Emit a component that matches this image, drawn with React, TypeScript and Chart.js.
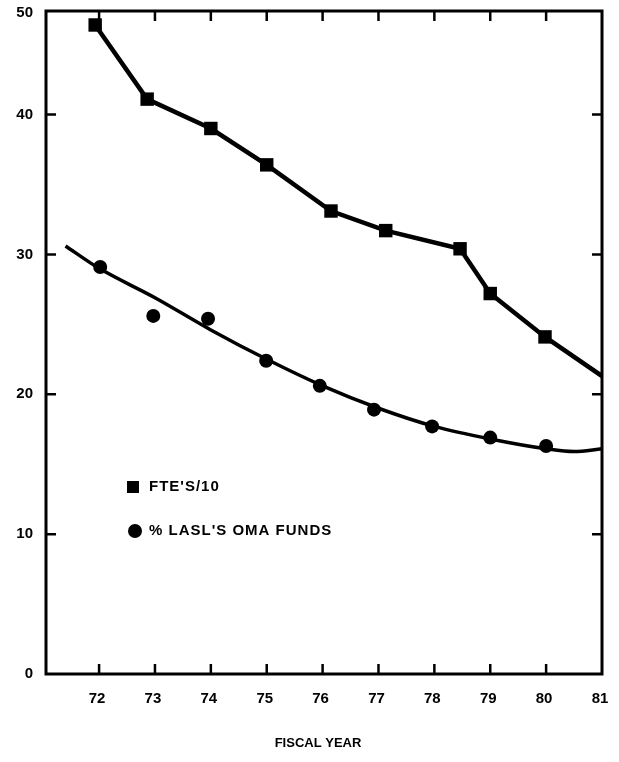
import React, { useEffect, useRef } from 'react';
import { Chart, registerables } from 'chart.js';

Chart.register(...registerables);

// Fiscal-year tick values and labels
const xTickValues = [72, 73, 74, 75, 76, 77, 78, 79, 80, 81];
const xTickLabels = ['72', '73', '74', '75', '76', '77', '78', '79', '80', '81'];
const yTickValues = [0, 10, 20, 30, 40, 47.4];
const yTickLabels = ['0', '10', '20', '30', '40', '50'];
const xAxisTitle = 'FISCAL YEAR';

// FTE'S/10 series (squares, connected)
const fteYears = [71.93, 72.86, 74.0, 75.0, 76.15, 77.13, 78.46, 79.0, 79.98, 81.0];
const fteValues = [46.4, 41.1, 39.0, 36.4, 33.1, 31.7, 30.4, 27.2, 24.1, 21.3];

// % LASL'S OMA FUNDS (circles)
const omaYears = [72.02, 72.97, 73.95, 74.99, 75.95, 76.92, 77.96, 79.0, 80.0];
const omaValues = [29.1, 25.6, 25.4, 22.4, 20.6, 18.9, 17.7, 16.9, 16.3];

// Smooth fitted curve through the OMA funds points
const fitYears = [71.4, 72, 73, 74, 75, 76, 77, 78, 79, 80, 80.5, 81];
const fitValues = [30.6, 29.0, 26.9, 24.6, 22.5, 20.6, 19.0, 17.7, 16.8, 16.1, 15.9, 16.1];

const legendLabels = ["FTE'S/10", "% LASL'S OMA FUNDS"];

const FONT = '"Liberation Sans", Arial, sans-serif';

const framePlugin = {
  id: 'frameTicks',
  afterDraw(chart: any) {
    const { ctx, chartArea } = chart;
    const { left, right, top, bottom } = chartArea;
    const xs = chart.scales.x;
    const ys = chart.scales.y;
    ctx.save();
    ctx.strokeStyle = '#000';
    ctx.lineWidth = 3;
    ctx.strokeRect(left, top, right - left, bottom - top);
    ctx.lineWidth = 2.5;
    ctx.beginPath();
    xTickValues.forEach((v) => {
      if (v >= 81) return;
      const px = xs.getPixelForValue(v);
      ctx.moveTo(px, bottom);
      ctx.lineTo(px, bottom - 10);
      ctx.moveTo(px, top);
      ctx.lineTo(px, top + 10);
    });
    yTickValues.forEach((v) => {
      if (v <= 0 || v >= 47) return;
      const py = ys.getPixelForValue(v);
      ctx.moveTo(left, py);
      ctx.lineTo(left + 10, py);
      ctx.moveTo(right, py);
      ctx.lineTo(right - 10, py);
    });
    ctx.stroke();

    // tick labels
    ctx.fillStyle = '#000';
    ctx.font = `bold 15px ${FONT}`;
    ctx.textBaseline = 'middle';
    ctx.textAlign = 'right';
    yTickValues.forEach((v, i) => {
      const py = ys.getPixelForValue(v);
      ctx.fillText(yTickLabels[i], left - 13, v >= 47 ? py + 2 : py);
    });
    ctx.textAlign = 'center';
    xTickValues.forEach((v, i) => {
      const px = xs.getPixelForValue(v);
      ctx.fillText(xTickLabels[i], px - 2, bottom + 25);
    });

    // axis title
    ctx.font = `bold 13px ${FONT}`;
    ctx.fillText(xAxisTitle, (left + right) / 2 - 6, 743);

    // legend
    const lx = left + 87;
    const ly1 = 487;
    const ly2 = 531;
    ctx.fillRect(lx - 6, ly1 - 6, 12, 12);
    ctx.beginPath();
    ctx.arc(lx + 2, ly2, 7, 0, Math.PI * 2);
    ctx.fill();
    ctx.font = `bold 15px ${FONT}`;
    (ctx as any).letterSpacing = '1px';
    ctx.textAlign = 'left';
    ctx.fillText(legendLabels[0], lx + 16, ly1);
    ctx.fillText(legendLabels[1], lx + 16, ly2);
    ctx.restore();
  },
};

export default function App() {
  const ref = useRef<HTMLCanvasElement | null>(null);

  useEffect(() => {
    if (!ref.current) return;
    const chart = new Chart(ref.current, {
      type: 'scatter',
      data: {
        datasets: [
          {
            label: legendLabels[0],
            data: fteYears.map((x, i) => ({ x, y: fteValues[i] })),
            showLine: true,
            borderColor: '#000',
            backgroundColor: '#000',
            borderWidth: 4.5,
            pointStyle: 'rect',
            pointRadius: fteYears.map((x) => (x >= 81 ? 0 : 9.5)),
            pointBorderWidth: 0,
          },
          {
            label: 'fit',
            data: fitYears.map((x, i) => ({ x, y: fitValues[i] })),
            showLine: true,
            borderColor: '#000',
            borderWidth: 3.5,
            pointRadius: 0,
            tension: 0.4,
            cubicInterpolationMode: 'monotone',
          },
          {
            label: legendLabels[1],
            data: omaYears.map((x, i) => ({ x, y: omaValues[i] })),
            showLine: false,
            backgroundColor: '#000',
            borderColor: '#000',
            pointStyle: 'circle',
            pointRadius: 7,
            pointBorderWidth: 0,
          },
        ],
      },
      options: {
        responsive: false,
        animation: false,
        layout: { padding: { left: 0, right: 17, top: 11, bottom: 0 } },
        plugins: { legend: { display: false }, tooltip: { enabled: false } },
        scales: {
          x: {
            type: 'linear',
            min: 71.05,
            max: 81,
            grid: { display: false, drawTicks: false },
            border: { display: false },
            afterBuildTicks: (s: any) => {
              s.ticks = xTickValues.map((v) => ({ value: v }));
            },
            afterFit: (s: any) => {
              s.height = 88;
            },
            ticks: { display: false },
          },
          y: {
            type: 'linear',
            min: 0,
            max: 47.4,
            grid: { display: false, drawTicks: false },
            border: { display: false },
            afterBuildTicks: (s: any) => {
              s.ticks = yTickValues.map((v) => ({ value: v }));
            },
            afterFit: (s: any) => {
              s.width = 46;
            },
            ticks: { display: false },
          },
        },
      },
      plugins: [framePlugin],
    });
    return () => chart.destroy();
  }, []);

  return (
    <div style={{ position: 'fixed', left: 0, top: 0, width: 619, height: 762, background: '#fff' }}>
      <canvas ref={ref} width={619} height={762} style={{ display: 'block' }} />
    </div>
  );
}
